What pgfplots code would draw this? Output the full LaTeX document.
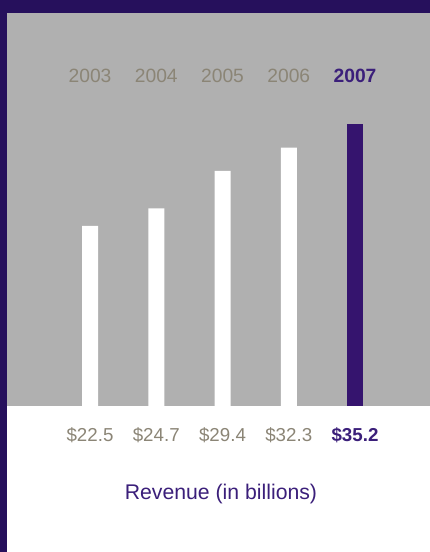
\documentclass[border=0pt]{standalone}
\usepackage{pgfplots}
\pgfplotsset{compat=1.18}
\usepackage{fontspec}
\setmainfont{Liberation Sans}
\definecolor{bggray}{HTML}{B0B0B0}
\definecolor{border}{HTML}{26105C}
\definecolor{barpurple}{HTML}{35146E}
\definecolor{labgray}{HTML}{8B8576}
\definecolor{txtpurple}{HTML}{3B1F7A}
\begin{document}
\begin{tikzpicture}
\path[use as bounding box, fill=white] (0,0) rectangle (430bp,552bp);
\begin{axis}[
  at={(7bp,146bp)}, anchor=south west,
  scale only axis, width=423bp, height=393bp,
  xmin=-1.253, xmax=5.132, ymin=0, ymax=49.125,
  axis background/.style={fill=bggray},
  axis line style={draw=none}, tick style={draw=none},
  ytick=\empty,
  xtick={0,1,2,3,4},
  xticklabels={\$22.5,\$24.7,\$29.4,\$32.3,\textcolor{txtpurple}{\bfseries\$35.2}},
  xticklabel style={anchor=base, yshift=-31bp, font=\fontsize{18.8}{21}\selectfont, text=labgray},
  clip=false,
  ybar, bar width=16bp,
]
\addplot[fill=white, draw=none, bar shift=0pt] coordinates {(0,22.5) (1,24.7) (2,29.4) (3,32.3)};
\addplot[fill=barpurple, draw=none, bar shift=0pt] coordinates {(4,35.2)};
\node[anchor=base, text=labgray, font=\fontsize{19.3}{21}\selectfont] at (axis cs:0,40.4) {2003};
\node[anchor=base, text=labgray, font=\fontsize{19.3}{21}\selectfont] at (axis cs:1,40.4) {2004};
\node[anchor=base, text=labgray, font=\fontsize{19.3}{21}\selectfont] at (axis cs:2,40.4) {2005};
\node[anchor=base, text=labgray, font=\fontsize{19.3}{21}\selectfont] at (axis cs:3,40.4) {2006};
\node[anchor=base, text=txtpurple, font=\fontsize{19.3}{21}\selectfont\bfseries] at (axis cs:4,40.4) {2007};
\end{axis}
\fill[border] (0,0) rectangle (7bp,552bp);
\fill[border] (0,539bp) rectangle (430bp,552bp);
\node[anchor=base, text=txtpurple, font=\fontsize{21.3}{25}\selectfont] at (221bp,52bp) {Revenue (in billions)};
\end{tikzpicture}
\end{document}
